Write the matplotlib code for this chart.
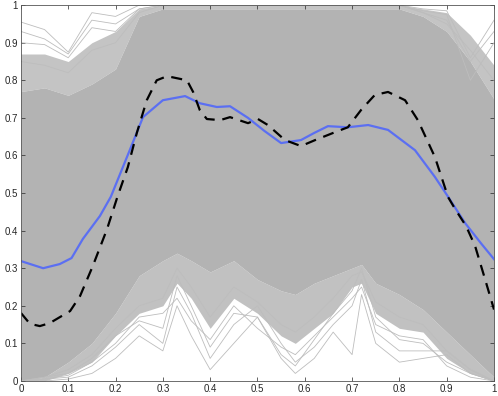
import matplotlib
matplotlib.use("Agg")
import matplotlib.pyplot as plt
from matplotlib.ticker import FormatStrFormatter, MultipleLocator

plt.rcParams['font.family'] = ['Liberation Sans', 'DejaVu Sans']

# mean curve (blue)
mean_x = [0, 0.047, 0.082, 0.107, 0.131, 0.167, 0.19, 0.23, 0.258, 0.30, 0.347,
          0.378, 0.414, 0.442, 0.48, 0.515, 0.55, 0.592, 0.62, 0.649, 0.691,
          0.734, 0.776, 0.833, 0.875, 0.903, 0.939, 0.972, 1.0]
mean_y = [0.319, 0.30, 0.311, 0.327, 0.378, 0.439, 0.49, 0.614, 0.702, 0.747, 0.758,
          0.739, 0.729, 0.731, 0.70, 0.665, 0.633, 0.641, 0.66, 0.678, 0.675,
          0.681, 0.668, 0.614, 0.543, 0.49, 0.42, 0.367, 0.324]

# reference curve (black dashed)
ref_x = [0, 0.019, 0.04, 0.061, 0.104, 0.125, 0.152, 0.182, 0.204, 0.226, 0.245,
         0.266, 0.287, 0.309, 0.351, 0.364, 0.378, 0.393, 0.421, 0.442, 0.48,
         0.501, 0.522, 0.558, 0.592, 0.622, 0.664, 0.691, 0.719, 0.748, 0.776,
         0.812, 0.839, 0.875, 0.903, 0.918, 0.941, 0.96, 0.981, 1.0]
ref_y = [0.181, 0.152, 0.146, 0.154, 0.186, 0.226, 0.306, 0.404, 0.49, 0.569, 0.66,
         0.747, 0.80, 0.811, 0.80, 0.769, 0.721, 0.697, 0.694, 0.702, 0.686,
         0.697, 0.681, 0.641, 0.625, 0.641, 0.662, 0.675, 0.721, 0.761, 0.769,
         0.747, 0.694, 0.596, 0.489, 0.457, 0.412, 0.359, 0.271, 0.19]

# envelope of the individual curves (grey bundle)
env_x = [0, .05, .1, .15, .2, .25, .3, .33, .36, .4, .45, .5, .55, .58, .62, .66,
         .7, .72, .75, .8, .85, .9, .95, 1]
dense_lo = [0.0, 0.01, 0.05, 0.10, 0.18, 0.28, 0.32, 0.34, 0.32, 0.29, 0.32, 0.27,
            0.24, 0.23, 0.26, 0.28, 0.30, 0.31, 0.26, 0.23, 0.19, 0.13, 0.07, 0.01]
loose_lo = [0.0, 0.0, 0.02, 0.05, 0.12, 0.18, 0.20, 0.26, 0.22, 0.14, 0.22, 0.18,
            0.12, 0.10, 0.14, 0.18, 0.25, 0.26, 0.18, 0.14, 0.13, 0.06, 0.02, 0.0]
dense_hi = [0.77, 0.78, 0.76, 0.79, 0.83, 0.97, 0.99, 0.99, 0.99, 0.99, 0.99, 0.99,
            0.99, 0.99, 0.99, 0.99, 0.99, 0.99, 0.99, 0.99, 0.97, 0.93, 0.85, 0.75]
loose_hi = [0.87, 0.87, 0.85, 0.90, 0.93, 0.99, 1.0, 1.0, 1.0, 1.0, 1.0, 1.0,
            1.0, 1.0, 1.0, 1.0, 1.0, 1.0, 1.0, 1.0, 0.99, 0.98, 0.92, 0.84]

# a few outlying curves at the edges of the bundle
low_curves = [
    [0, 0, 0.005, 0.02, 0.06, 0.12, 0.08, 0.20, 0.12, 0.03, 0.10, 0.17, 0.06, 0.02,
     0.06, 0.13, 0.07, 0.23, 0.10, 0.05, 0.06, 0.07, 0.02, 0.0],
    [0, 0.005, 0.01, 0.04, 0.09, 0.15, 0.10, 0.25, 0.18, 0.06, 0.15, 0.20, 0.10, 0.05,
     0.09, 0.15, 0.20, 0.27, 0.13, 0.08, 0.08, 0.08, 0.03, 0.0],
    [0, 0.01, 0.02, 0.06, 0.12, 0.16, 0.14, 0.28, 0.20, 0.09, 0.18, 0.17, 0.07, 0.04,
     0.11, 0.18, 0.24, 0.30, 0.17, 0.11, 0.10, 0.05, 0.02, 0.0],
    [0, 0.005, 0.015, 0.05, 0.10, 0.17, 0.18, 0.22, 0.16, 0.11, 0.20, 0.14, 0.09, 0.07,
     0.12, 0.17, 0.22, 0.25, 0.15, 0.12, 0.11, 0.04, 0.01, 0.0],
    [0, 0.01, 0.03, 0.07, 0.14, 0.20, 0.22, 0.30, 0.25, 0.17, 0.25, 0.21, 0.15, 0.13,
     0.17, 0.22, 0.28, 0.29, 0.21, 0.17, 0.15, 0.08, 0.03, 0.0],
]
high_curves = [
    [0.955, 0.935, 0.875, 0.98, 0.97, 1.0, 1.0, 1.0, 1.0, 1.0, 1.0, 1.0, 1.0, 1.0,
     1.0, 1.0, 1.0, 1.0, 1.0, 1.0, 0.99, 0.985, 0.86, 0.96],
    [0.93, 0.91, 0.87, 0.96, 0.95, 0.99, 1.0, 1.0, 1.0, 1.0, 1.0, 1.0, 1.0, 1.0,
     1.0, 1.0, 1.0, 1.0, 1.0, 1.0, 0.985, 0.975, 0.80, 0.90],
    [0.90, 0.895, 0.86, 0.94, 0.93, 0.99, 1.0, 1.0, 1.0, 1.0, 1.0, 1.0, 1.0, 1.0,
     1.0, 1.0, 1.0, 1.0, 1.0, 1.0, 0.98, 0.96, 0.85, 0.93],
    [0.85, 0.84, 0.82, 0.88, 0.90, 0.98, 1.0, 1.0, 1.0, 1.0, 1.0, 1.0, 1.0, 1.0,
     1.0, 1.0, 1.0, 1.0, 1.0, 1.0, 0.98, 0.95, 0.88, 0.80],
]

fig = plt.figure(figsize=(4.98, 3.96), dpi=100)
ax = fig.add_axes([0.042, 0.038, 0.950, 0.949])

grey = '#b3b3b3'
ax.fill_between(env_x, loose_lo, dense_lo, color='#c1c1c1', lw=0)
ax.fill_between(env_x, dense_hi, loose_hi, color='#c4c4c4', lw=0)
ax.fill_between(env_x, dense_lo, dense_hi, color=grey, lw=0)
for c in low_curves + high_curves:
    ax.plot(env_x, c, color='#bdbdbd', lw=0.6)

ax.plot(mean_x, mean_y, color='#5b6ff2', lw=1.6)
ax.plot(ref_x, ref_y, color='black', lw=1.6, ls=(0, (5, 3.5)))

ax.set_xlim(0, 1)
ax.set_ylim(0, 1)
ax.xaxis.set_major_locator(MultipleLocator(0.1))
ax.yaxis.set_major_locator(MultipleLocator(0.1))
ax.xaxis.set_major_formatter(FormatStrFormatter('%g'))
ax.yaxis.set_major_formatter(FormatStrFormatter('%g'))
ax.tick_params(direction='in', top=True, right=True, length=3, width=0.5,
               labelsize=7, colors='#262626', pad=2)
for s in ax.spines.values():
    s.set_linewidth(0.6)
    s.set_color('#555555')

fig.savefig('out.png', dpi=100)
